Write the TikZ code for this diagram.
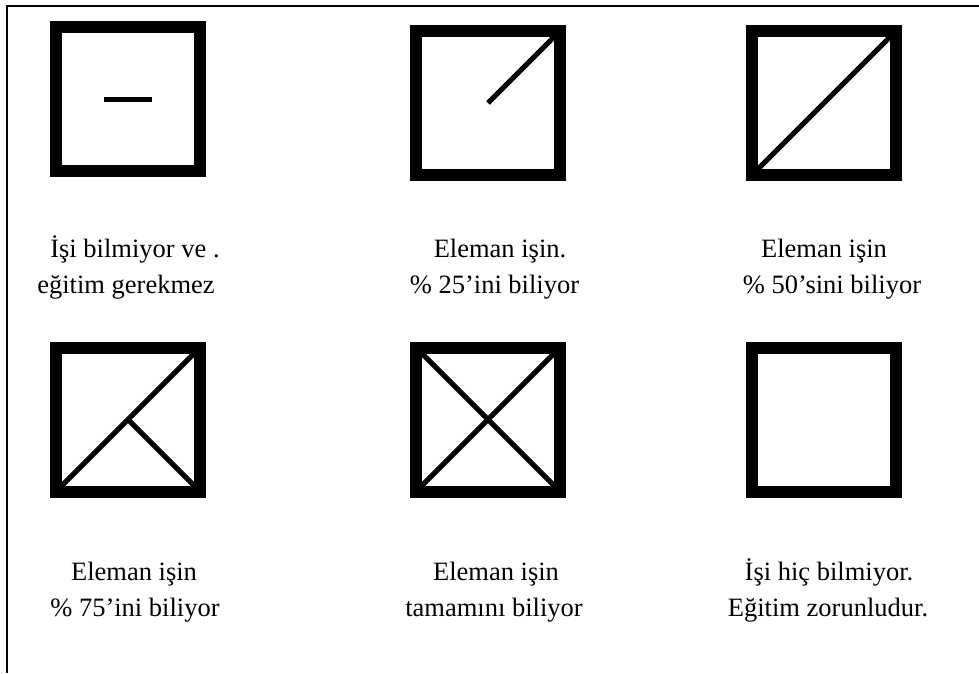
\documentclass[tikz,border=0pt]{standalone}
\usepackage{fontspec}
\setmainfont{Liberation Serif}
\usetikzlibrary{calc}
\tikzset{
  sq/.style={draw=black,line width=12pt,minimum size=144pt,inner sep=0pt,outer sep=0pt,fill=none},
  mark line/.style={line width=5pt,black},
  lbl/.style={font=\fontsize{26.5}{32}\selectfont,anchor=base,inner sep=0pt},
  frameline/.style={line width=2pt,black}
}
\begin{document}
\begin{tikzpicture}[x=1pt,y=-1pt]
\useasboundingbox (0,0) rectangle (979,673);
% frame
\coordinate (fTL) at (7,6);
\coordinate (fTR) at (979,6);
\coordinate (fBL) at (7,673);
\draw[frameline] (fTR) -- (fTL) -- (fBL);
% squares
\node[sq] (b1) at (128,99) {};
\node[sq] (b2) at (488,103) {};
\node[sq] (b3) at (824,103) {};
\node[sq] (b4) at (128,419.5) {};
\node[sq] (b5) at (488,419.5) {};
\node[sq] (b6) at (824,419.5) {};
% marks
\draw[mark line] ($(b1.center)+(-24pt,0)$) -- ($(b1.center)+(24pt,0)$);
\draw[mark line] (b2.center) -- ($(b2.north east)+(-6pt,-6pt)$);
\draw[mark line] ($(b3.south west)+(6pt,6pt)$) -- ($(b3.north east)+(-6pt,-6pt)$);
\draw[mark line] ($(b4.south west)+(6pt,6pt)$) -- ($(b4.north east)+(-6pt,-6pt)$);
\draw[mark line] (b4.center) -- ($(b4.south east)+(-6pt,6pt)$);
\draw[mark line] ($(b5.south west)+(6pt,6pt)$) -- ($(b5.north east)+(-6pt,-6pt)$);
\draw[mark line] ($(b5.north west)+(6pt,-6pt)$) -- ($(b5.south east)+(-6pt,6pt)$);
% labels
\node[lbl] (t1a) at (135,257) {İşi bilmiyor ve .};
\node[lbl] (t1b) at (126,293) {eğitim gerekmez};
\node[lbl] (t2a) at (500,257) {Eleman işin.};
\node[lbl] (t2b) at (494.5,293) {\% 25’ini biliyor};
\node[lbl] (t3a) at (824,257) {Eleman işin};
\node[lbl] (t3b) at (832,293) {\% 50’sini biliyor};
\node[lbl] (t4a) at (134,580) {Eleman işin};
\node[lbl] (t4b) at (135,616) {\% 75’ini biliyor};
\node[lbl] (t5a) at (496,580) {Eleman işin};
\node[lbl] (t5b) at (494,616) {tamamını biliyor};
\node[lbl] (t6a) at (829,580) {İşi hiç bilmiyor.};
\node[lbl] (t6b) at (828,616) {Eğitim zorunludur.};
\end{tikzpicture}
\end{document}
